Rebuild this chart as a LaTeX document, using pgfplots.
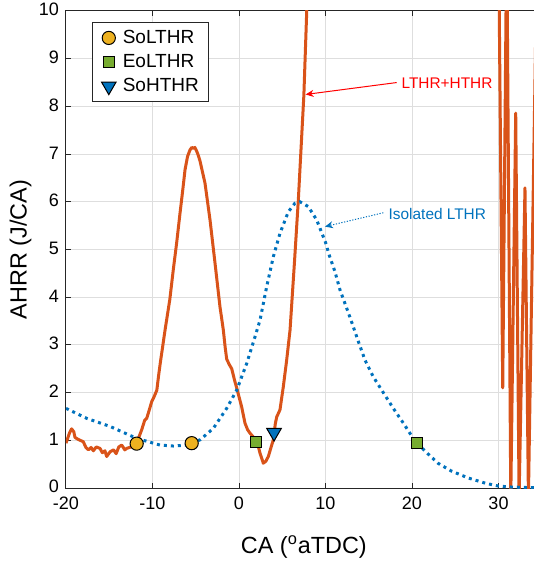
\documentclass[border=0pt]{standalone}
\usepackage{fontspec}
\setmainfont{Liberation Sans}
\usepackage{pgfplots}
\pgfplotsset{compat=1.18}
\usetikzlibrary{arrows.meta}
\definecolor{mred}{rgb}{0.85,0.325,0.098}
\definecolor{mblue}{rgb}{0,0.447,0.741}
\definecolor{myellow}{rgb}{0.929,0.694,0.125}
\definecolor{mgreen}{rgb}{0.466,0.674,0.188}
\definecolor{axgray}{rgb}{0.15,0.15,0.15}
\pgfplotsset{mylegimg/.style={legend image code/.code={\path[draw=none] (0pt,0pt) -- (10pt,0pt); \path[draw=none,##1] plot coordinates {(5pt,0pt)};}}}
\begin{document}
\begin{tikzpicture}
\begin{axis}[
  at={(0,0)}, anchor=south west,
  scale only axis, width=237.875pt, height=238.5pt,
  xmin=-20, xmax=35, ymin=0, ymax=10,
  xtick={-20,-10,0,10,20,30}, ytick={0,1,2,3,4,5,6,7,8,9,10},
  grid=major, major grid style={black!13, line width=0.5pt},
  axis line style={axgray, line width=0.5pt},
  tick style={axgray, line width=0.5pt}, major tick length=2.5pt,
  tick align=inside,
  tick label style={font=\fontsize{9}{10}\selectfont, text=black},
  xticklabel style={yshift=-0.8pt},
  yticklabel style={yshift=0.6pt},
  /pgf/number format/assume math mode=true,
  xlabel={CA (\textsuperscript{o}aTDC)},
  ylabel={AHRR (J/CA)},
  label style={font=\fontsize{11.7}{13}\selectfont},
  xlabel style={at={(axis description cs:0.5,0)}, anchor=base, yshift=-32.5pt},
  ylabel style={at={([xshift=-19.65pt]axis description cs:0,0.5)}, anchor=base},
  legend style={at={(axis description cs:0,1)}, anchor=north west, xshift=13.15pt, yshift=-5.65pt,
    draw=axgray, line width=0.5pt, font=\fontsize{9.5}{11}\selectfont,
    inner xsep=3pt, inner ysep=1.5pt, row sep=0pt, cells={anchor=west}},
  legend cell align=left,
]
% LTHR+HTHR curve
\addplot[forget plot, mred, line width=1.5pt, line join=round] coordinates {
(-20,0.94) (-19.6,1.15) (-19.35,1.24) (-19.1,1.18) (-18.96,1.06) (-18.6,1.02)
(-18.0,0.97) (-17.7,0.85) (-17.4,0.80) (-17.1,0.85) (-16.84,0.78) (-16.5,0.86)
(-16.07,0.83) (-15.8,0.74) (-15.5,0.78) (-15.3,0.66) (-14.9,0.76) (-14.5,0.80)
(-14.2,0.72) (-13.9,0.86) (-13.56,0.90) (-13.2,0.80) (-12.98,0.83) (-12.5,0.86)
(-11.83,0.94) (-11.5,1.10) (-11.25,1.22) (-10.9,1.42) (-10.67,1.46) (-10.4,1.62)
(-10.09,1.81) (-9.8,1.92) (-9.5,2.05) (-9.3,2.35) (-9.1,2.62) (-8.55,3.31)
(-8.0,3.95) (-7.6,4.57) (-7.2,5.15) (-6.82,5.76) (-6.5,6.25) (-6.24,6.67)
(-5.95,6.95) (-5.66,7.09) (-5.45,7.14) (-5.28,7.12) (-5.1,7.14) (-4.89,7.06)
(-4.7,6.97) (-4.5,6.85) (-3.93,6.39) (-3.35,5.62) (-2.77,4.71) (-2.2,3.80)
(-1.81,3.31) (-1.6,2.95) (-1.42,2.70) (-1.1,2.58) (-0.84,2.50) (-0.5,2.25)
(-0.27,2.10) (0.31,1.70) (0.69,1.36) (1.0,1.22) (1.27,1.15) (1.7,1.06)
(2.05,1.00) (2.43,0.73) (2.81,0.52) (3.1,0.56) (3.39,0.66) (3.7,0.85)
(3.97,1.01) (4.2,1.35) (4.36,1.49) (4.74,1.64) (5.12,2.12) (5.51,2.68)
(5.9,3.31) (6.4,4.7) (6.86,6.04) (7.5,8.24) (7.83,10.0) (8.2,12.5)
(9,15) (29.5,15) (29.96,12.5) (30.49,2.1) (30.95,11.7) (31.42,-0.2)
(31.99,7.86) (32.38,-0.2) (33.06,6.29) (33.46,-0.2) (34.3,9.5)
};
% Isolated LTHR curve
\addplot[forget plot, mblue, line width=1.5pt, dash pattern=on 1.5pt off 2pt] coordinates {
(-20,1.67) (-17.6,1.46) (-14.9,1.29) (-11.83,1.04) (-9.13,0.90) (-7.6,0.88)
(-6.05,0.90) (-4.5,1.01) (-2.97,1.25) (-1.42,1.67) (-0.27,2.05) (0.89,2.61)
(1.85,3.17) (2.43,3.52) (3.2,4.22) (3.97,4.85) (4.74,5.34) (5.7,5.79)
(6.47,5.97) (7.05,6.0) (8.01,5.90) (8.98,5.62) (10.0,5.15) (10.4,4.9)
(11.1,4.53) (11.68,4.15) (12.45,3.77) (13.14,3.42) (13.8,3.07) (14.57,2.68)
(15.53,2.33) (16.68,2.0) (17.84,1.67) (19.0,1.36) (19.97,1.09) (20.58,0.94)
(21.7,0.74) (23.0,0.52) (24.5,0.36) (26.5,0.21) (28.5,0.10) (30.0,0.04)
(31.5,0.02) (35,0.0)
};
% markers
\addplot[only marks, mark=*, mark size=3.3pt,
  mark options={fill=myellow, draw=black, line width=0.5pt}, mylegimg]
  coordinates {(-11.83,0.93) (-5.47,0.94)};
\addlegendentry{SoLTHR}
\addplot[only marks, mark=square*, mark size=2.75pt,
  mark options={fill=mgreen, draw=black, line width=0.5pt}, mylegimg]
  coordinates {(1.97,0.96) (20.58,0.94)};
\addlegendentry{EoLTHR}
\addplot[only marks, mark=triangle*, mark size=4.2pt,
  mark options={rotate=180, fill=mblue, draw=black, line width=0.5pt}, mylegimg]
  coordinates {(4.05,1.16)};
\addlegendentry{SoHTHR}
% annotations
\draw[red, line width=0.5pt, -{Stealth[length=4pt,width=3.5pt]}] (axis cs:18.23,8.5) -- (axis cs:7.7,8.25);
\node[anchor=west, inner sep=0pt, text=red, font=\fontsize{7.7}{9}\selectfont] at (axis cs:18.75,8.48) {LTHR+HTHR};
\draw[mblue, line width=0.5pt, dash pattern=on 0.6pt off 0.8pt, -{Stealth[length=4pt,width=3.5pt]}] (axis cs:16.69,5.77) -- (axis cs:9.94,5.48);
\node[anchor=west, inner sep=0pt, text=mblue, font=\fontsize{7.7}{9}\selectfont] at (axis cs:17.26,5.74) {Isolated LTHR};
\end{axis}
\pgfresetboundingbox
\useasboundingbox (-33pt,-36.5pt) rectangle (233.55pt,244pt);
\end{tikzpicture}
\end{document}
